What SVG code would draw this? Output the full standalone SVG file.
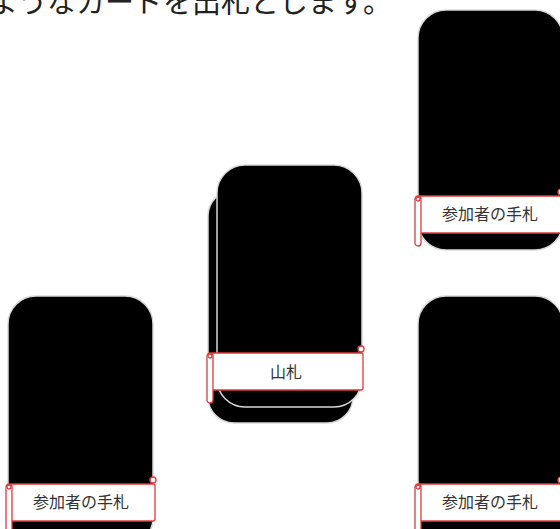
<svg xmlns="http://www.w3.org/2000/svg" width="560" height="529" viewBox="0 0 560 529">
<style>
.card{fill:#000;stroke:#d8d8d8;stroke-width:1.5}
.lab{fill:#fff;stroke:#e0393e;stroke-width:1.3}
.lt{font-family:"Noto Sans CJK JP","Noto Sans",sans-serif;font-size:16px;fill:#333;text-anchor:middle}
.top{font-family:"Noto Sans CJK JP","Noto Sans",sans-serif;font-size:29px;fill:#222}
</style>
<defs>
<g id="curl">
<rect class="lab" x="0" y="0" width="6" height="50" rx="3"/>
<circle class="lab" cx="3" cy="3" r="2"/>
</g>
</defs>
<rect width="560" height="529" fill="#fff"/>
<text class="top" x="-11" y="13">ようなカードを出札とします。</text>
<g id="deck">
<rect class="card" x="208" y="190" width="145" height="233" rx="26"/>
<rect class="card" x="217" y="165" width="145" height="242" rx="28"/>
<rect class="lab" x="210" y="353" width="153" height="37" rx="2"/>
<circle class="lab" cx="361" cy="349" r="3"/>
<use href="#curl" x="207" y="353"/>
<text class="lt" x="286" y="378">山札</text>
</g>
<g id="hand-top-right">
<rect class="card" x="418" y="10" width="145" height="240" rx="28"/>
<rect class="lab" x="418" y="196" width="147" height="37" rx="2"/>
<circle class="lab" cx="561" cy="192" r="3"/>
<use href="#curl" x="415" y="196"/>
<text class="lt" x="490" y="220">参加者の手札</text>
</g>
<g id="hand-bottom-left">
<rect class="card" x="8" y="296" width="145" height="250" rx="28"/>
<rect class="lab" x="9" y="484" width="146" height="37" rx="2"/>
<circle class="lab" cx="153" cy="480" r="3"/>
<use href="#curl" x="6" y="484"/>
<text class="lt" x="81" y="508">参加者の手札</text>
</g>
<g id="hand-bottom-right">
<rect class="card" x="418" y="296" width="145" height="250" rx="28"/>
<rect class="lab" x="418" y="484" width="147" height="37" rx="2"/>
<circle class="lab" cx="561" cy="480" r="3"/>
<use href="#curl" x="415" y="484"/>
<text class="lt" x="490" y="508">参加者の手札</text>
</g>
<g id="connectors"/>
</svg>
